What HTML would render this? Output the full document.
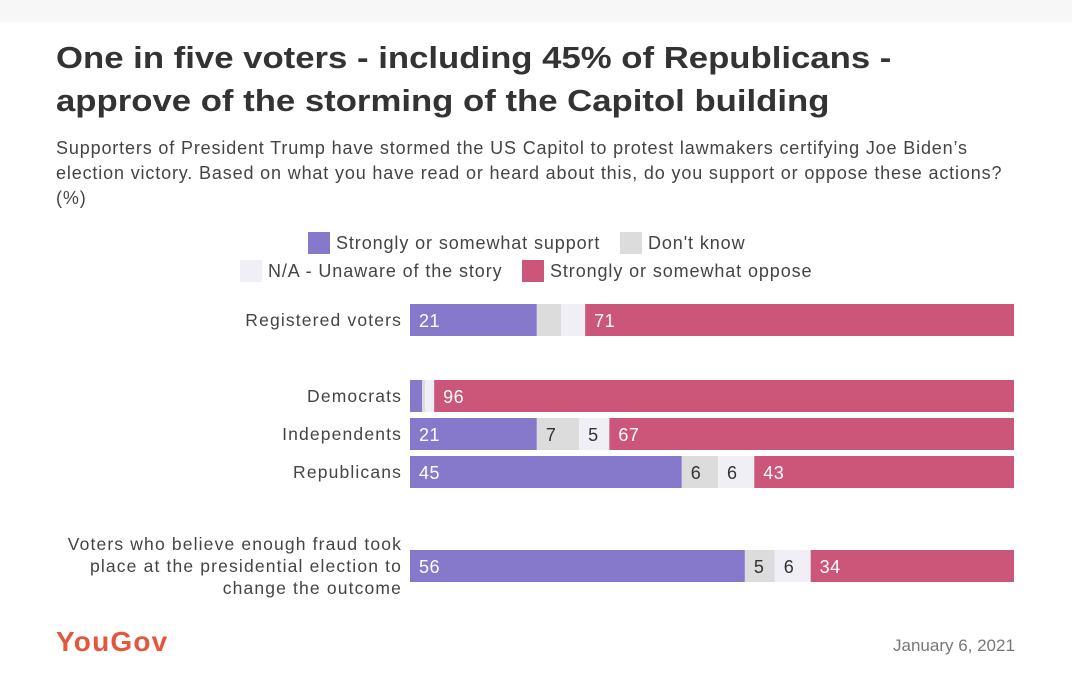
<!DOCTYPE html>
<html><head><meta charset="utf-8"><style>
body{margin:0;width:1072px;height:690px;background:#fff;font-family:"Liberation Sans",sans-serif;overflow:hidden;position:relative;color:#333}
.topbar{position:absolute;left:0;top:0;width:1072px;height:22px;background:#f7f7f7}
h1{position:absolute;left:56px;top:36px;margin:0;font-size:31px;line-height:43px;font-weight:bold;color:#333;white-space:nowrap;transform:scaleX(1.12);transform-origin:0 0}
.sub{position:absolute;left:56px;top:136px;width:975px;font-size:18px;line-height:25px;color:#444;letter-spacing:0.85px}
.leg{position:absolute;font-size:18px;color:#444;display:flex;align-items:center;letter-spacing:0.9px;white-space:nowrap}
.sw{width:22px;height:22px;margin-right:6px}
.logo{position:absolute;left:56px;top:626px;font-size:28px;font-weight:bold;color:#e3573d;letter-spacing:1.2px}
.date{position:absolute;left:893px;top:636px;font-size:17px;color:#777}
</style></head><body>
<div class="topbar"></div>
<h1>One in five voters - including 45% of Republicans -<br>approve of the storming of the Capitol building</h1>
<div class="sub">Supporters of President Trump have stormed the US Capitol to protest lawmakers certifying Joe Biden’s<br>election victory. Based on what you have read or heard about this, do you support or oppose these actions?<br>(%)</div>
<div class="leg" style="left:308px;top:232px"><div class="sw" style="background:#8679cc"></div>Strongly or somewhat support</div>
<div class="leg" style="left:620px;top:232px"><div class="sw" style="background:#dcdcdc"></div>Don't know</div>
<div class="leg" style="left:240px;top:260px"><div class="sw" style="background:#f0eff5"></div>N/A - Unaware of the story</div>
<div class="leg" style="left:522px;top:260px"><div class="sw" style="background:#cc557a"></div>Strongly or somewhat oppose</div>
<svg id="chart" width="1072" height="690" style="position:absolute;left:0;top:0"></svg>
<div class="logo">YouGov</div>
<div class="date">January 6, 2021</div>
<script>
const categories=[["Registered voters"],["Democrats"],["Independents"],["Republicans"],["Voters who believe enough fraud took","place at the presidential election to","change the outcome"]];
const support=[21,2,21,45,56];
const dontKnow=[4,0.5,7,6,5];
const notAware=[4,1.5,5,6,6];
const oppose=[71,96,67,43,34];
const series=[support,dontKnow,notAware,oppose];
const seriesNames=["support","dont-know","na","oppose"];
const colors=["#8679cc","#dcdcdc","#f0eff5","#cc557a"];
const textColors=["#fff","#333","#333","#fff"];
const rowY=[304,380,418,456,550];
const x0=410,x1=1014,barH=32;
const svg=document.getElementById('chart');
const NS='http://www.w3.org/2000/svg';
categories.forEach((lines,i)=>{
  const total=series.reduce((s,a)=>s+a[i],0);
  const xs=v=>x0+(x1-x0)*v/total;
  let cum=0;
  series.forEach((arr,k)=>{
    const v=arr[i];
    const r=document.createElementNS(NS,'rect');
    r.setAttribute('x',xs(cum));r.setAttribute('y',rowY[i]);
    r.setAttribute('width',xs(cum+v)-xs(cum));r.setAttribute('height',barH);
    r.setAttribute('fill',colors[k]);
    
    
    svg.appendChild(r);
    if(v>=5){
      const t=document.createElementNS(NS,'text');
      t.setAttribute('x',xs(cum)+9);t.setAttribute('y',rowY[i]+23);
      t.setAttribute('font-size','18');t.setAttribute('fill',textColors[k]);
      t.setAttribute('letter-spacing','0.5');
      t.setAttribute('font-family','Liberation Sans, sans-serif');
      t.textContent=Math.round(v);
      
      
      svg.appendChild(t);
    }
    cum+=v;
  });
  const n=lines.length;
  lines.forEach((ln,j)=>{
    const t=document.createElementNS(NS,'text');
    t.setAttribute('x',402);
    t.setAttribute('y',rowY[i]+barH/2+6+(j-(n-1)/2)*22);
    t.setAttribute('text-anchor','end');t.setAttribute('font-size','17.5');
    t.setAttribute('letter-spacing','1.15');
    t.setAttribute('fill','#444');t.setAttribute('font-family','Liberation Sans, sans-serif');
    t.textContent=ln;
    
    
    svg.appendChild(t);
  });
});
</script>
</body></html>
